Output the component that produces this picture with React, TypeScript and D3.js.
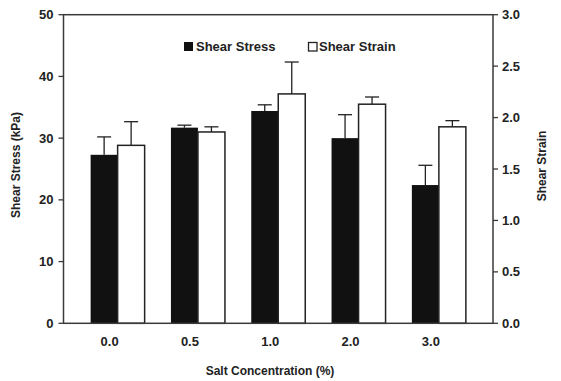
import React from "react";
import * as d3 from "d3";

const categories = ["0.0", "0.5", "1.0", "2.0", "3.0"];
const stress = [27.3, 31.7, 34.4, 30.0, 22.4];
const stressErr = [2.9, 0.4, 1.0, 3.8, 3.2];
const strain = [1.73, 1.86, 2.23, 2.13, 1.91];
const strainErr = [0.23, 0.05, 0.31, 0.07, 0.06];
const leftTicks = [0, 10, 20, 30, 40, 50];
const rightTicks = [0, 0.5, 1.0, 1.5, 2.0, 2.5, 3.0];

const W = 561, H = 381;
const L = 63.5, R = 493, T = 14.7, B = 323.3;
const FONT = "'Liberation Sans', Arial, sans-serif";
const AX = "#3a3a3a";

export default function App() {
  const x = d3.scalePoint<string>().domain(categories).range([L, R]).padding(0.674);
  const yL = d3.scaleLinear().domain([0, 50]).range([B, T]);
  const yR = d3.scaleLinear().domain([0, 3]).range([B, T]);
  const bw = 27;
  const cap = 7;

  return (
    <svg width={W} height={H} style={{ position: "absolute", left: 0, top: 0, background: "#fff" }} fontFamily={FONT}>
      <rect x={0} y={0} width={W} height={H} fill="#fff" />
      {/* bars */}
      {categories.map((c, i) => {
        const cx = x(c)!;
        const sTop = yL(stress[i]);
        const sErr = yL(stress[i] + stressErr[i]);
        const tTop = yR(strain[i]);
        const tErr = yR(strain[i] + strainErr[i]);
        const bx = cx - bw;
        const wx = cx;
        return (
          <g key={c}>
            <line x1={bx + bw / 2} x2={bx + bw / 2} y1={sTop} y2={sErr} stroke="#222" strokeWidth={1.3} />
            <line x1={bx + bw / 2 - cap} x2={bx + bw / 2 + cap} y1={sErr} y2={sErr} stroke="#222" strokeWidth={1.3} />
            <rect x={bx} y={sTop} width={bw} height={B - sTop} fill="#111" />
            <line x1={wx + bw / 2} x2={wx + bw / 2} y1={tTop} y2={tErr} stroke="#222" strokeWidth={1.3} />
            <line x1={wx + bw / 2 - cap} x2={wx + bw / 2 + cap} y1={tErr} y2={tErr} stroke="#222" strokeWidth={1.3} />
            <rect x={wx} y={tTop} width={bw} height={B - tTop} fill="#fff" stroke="#222" strokeWidth={1.5} />
          </g>
        );
      })}
      {/* frame */}
      <rect x={L} y={T} width={R - L} height={B - T} fill="none" stroke={AX} strokeWidth={1.5} />
      {/* left ticks */}
      {leftTicks.map((t) => (
        <g key={"l" + t}>
          <line x1={L - 5} x2={L} y1={yL(t)} y2={yL(t)} stroke={AX} strokeWidth={1.3} />
          <text x={L - 10} y={yL(t)} dy="0.35em" textAnchor="end" fontSize={13} fontWeight="bold" fill="#222">{t}</text>
        </g>
      ))}
      {/* right ticks */}
      {rightTicks.map((t) => (
        <g key={"r" + t}>
          <line x1={R} x2={R + 5} y1={yR(t)} y2={yR(t)} stroke={AX} strokeWidth={1.3} />
          <text x={R + 9} y={yR(t)} dy="0.35em" textAnchor="start" fontSize={13} fontWeight="bold" fill="#222">{t.toFixed(1)}</text>
        </g>
      ))}
      {/* x labels */}
      {categories.map((c) => (
        <text key={"x" + c} x={x(c)! - 8} y={346} textAnchor="middle" fontSize={13} fontWeight="bold" fill="#222">{c}</text>
      ))}
      {/* axis titles */}
      <text x={270} y={375} textAnchor="middle" fontSize={12} fontWeight="bold" fill="#222">Salt Concentration (%)</text>
      <text transform={`translate(20,${(T + B) / 2 - 4}) rotate(-90)`} textAnchor="middle" fontSize={12} fontWeight="bold" fill="#222">Shear Stress (kPa)</text>
      <text transform={`translate(546,${(T + B) / 2 - 3}) rotate(-90)`} textAnchor="middle" fontSize={12} fontWeight="bold" fill="#222">Shear Strain</text>
      {/* legend */}
      <rect x={184} y={42} width={9} height={9} fill="#111" />
      <text x={196} y={51} fontSize={13} fontWeight="bold" fill="#222">Shear Stress</text>
      <rect x={308.5} y={42.5} width={8.5} height={8.5} fill="#fff" stroke="#222" strokeWidth={1.3} />
      <text x={319} y={51} fontSize={13} fontWeight="bold" fill="#222">Shear Strain</text>
    </svg>
  );
}
